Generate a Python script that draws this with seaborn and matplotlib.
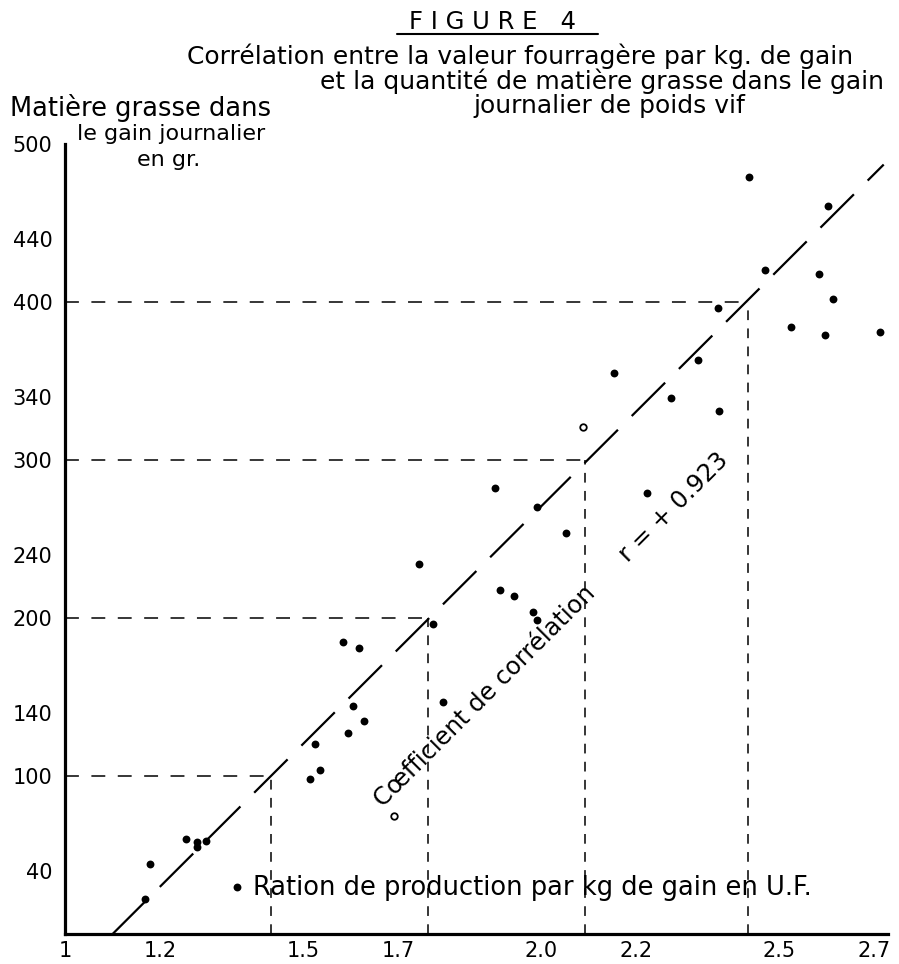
import matplotlib
matplotlib.use("Agg")
import matplotlib.pyplot as plt
import seaborn as sns
from matplotlib.lines import Line2D

# ---- data ----
fill_x = [1.168, 1.179, 1.254, 1.277, 1.277, 1.296, 1.361, 1.515, 1.525, 1.536,
          1.584, 1.595, 1.605, 1.618, 1.628, 1.744, 1.773, 1.794, 1.903, 1.914,
          1.943, 1.983, 1.992, 1.992, 2.053, 2.153, 2.223, 2.273, 2.330, 2.372,
          2.374, 2.437, 2.471, 2.525, 2.584, 2.597, 2.603, 2.613, 2.712]
fill_y = [22, 44, 60, 58, 55, 59, 30, 98, 120, 104,
          185, 127, 144, 181, 135, 234, 196, 147, 282, 218,
          214, 204, 199, 270, 254, 355, 279, 339, 363, 396,
          331, 479, 420, 384, 418, 379, 461, 402, 381]
open_x = [1.691, 2.088]
open_y = [75, 321]

reg_x = [1.10, 2.72]
reg_y = [0, 487]
guide_x = [1.433, 1.763, 2.092, 2.435]
guide_y = [100, 200, 300, 400]

x_ticks = [1, 1.2, 1.5, 1.7, 2.0, 2.2, 2.5, 2.7]
x_ticklabels = ["1", "1.2", "1.5", "1.7", "2.0", "2.2", "2.5", "2.7"]
y_ticks = [40, 100, 140, 200, 240, 300, 340, 400, 440, 500]

title_main = "F I G U R E   4"
title_lines = ["Corrélation entre la valeur fourragère par kg. de gain",
               "et la quantité de matière grasse dans le gain",
               "journalier de poids vif"]
ylabel_lines = ["Matière grasse dans", "le gain journalier", "en gr."]
xlabel = "Ration de production par kg de gain en U.F."
corr_text = "Cœfficient de corrélation"
r_text = "r = + 0.923"

# ---- style ----
sns.set_theme(style="white")
plt.rcParams["font.family"] = ["DejaVu Sans"]
plt.rcParams["lines.scale_dashes"] = False
plt.rcParams["text.color"] = "black"
plt.rcParams["axes.labelcolor"] = "black"
plt.rcParams["xtick.color"] = "black"
plt.rcParams["ytick.color"] = "black"

W, H = 899, 964
fig = plt.figure(figsize=(W / 100, H / 100), dpi=100)
ax = fig.add_axes([65 / W, (H - 934) / H, (888 - 65) / W, (934 - 144) / H])
ax.set_xlim(1.0, 2.729)
ax.set_ylim(0, 500)

# scatter
sns.scatterplot(x=fill_x, y=fill_y, ax=ax, color="black", s=32,
                edgecolor="black", linewidth=0, zorder=5)
sns.scatterplot(x=open_x, y=open_y, ax=ax, facecolor="white", s=22,
                edgecolor="black", linewidth=1.3, zorder=5)

# regression line
ax.plot(reg_x, reg_y, color="black", lw=1.6, linestyle=(0, (34, 14)), zorder=3)
# guide lines
for gx, gy in zip(guide_x, guide_y):
    ax.plot([1.0, gx], [gy, gy], color="black", lw=1.1,
            linestyle=(0, (10, 9)), zorder=2)
    ax.plot([gx, gx], [0, gy], color="black", lw=1.1,
            linestyle=(0, (7, 6)), zorder=2)

# axes / spines
for s in ["top", "right"]:
    ax.spines[s].set_visible(False)
for s in ["left", "bottom"]:
    ax.spines[s].set_linewidth(2.3)
    ax.spines[s].set_color("black")
ax.spines["left"].set_bounds(0, 500)

ax.set_xticks(x_ticks)
ax.set_xticklabels(x_ticklabels)
ax.set_yticks(y_ticks)
ax.tick_params(axis="both", direction="in", length=4, width=2, colors="black",
               labelsize=15)
ax.tick_params(axis="x", pad=5)
ax.tick_params(axis="y", pad=9)

# x label inside plot
ax.set_xlabel(xlabel, fontsize=18.5, ha="left", va="center", color="black")
ax.xaxis.set_label_coords((253 - 65) / 823, (934 - 888) / 790)

# rotated annotations
ax.text(1.668, 80, corr_text, rotation=45, rotation_mode="anchor",
        ha="left", va="baseline", fontsize=17.5, color="black")
ax.text(2.183, 235, r_text, rotation=45, rotation_mode="anchor",
        ha="left", va="baseline", fontsize=17.5, color="black")

# titles
fig.text(493 / W, 1 - 22 / H, title_main, ha="center", va="center", fontsize=17.5)
fig.add_artist(Line2D([397 / W, 598 / W], [1 - 34 / H, 1 - 34 / H],
                      color="black", lw=1.5, transform=fig.transFigure))
fig.text(187 / W, 1 - 56 / H, title_lines[0], ha="left", va="center", fontsize=18)
fig.text(320 / W, 1 - 81 / H, title_lines[1], ha="left", va="center", fontsize=18)
fig.text(473 / W, 1 - 106 / H, title_lines[2], ha="left", va="center", fontsize=18)

# y label (three lines)
fig.text(10 / W, 1 - 108 / H, ylabel_lines[0], ha="left", va="center", fontsize=18.5)
fig.text(77 / W, 1 - 134 / H, ylabel_lines[1], ha="left", va="center", fontsize=16)
fig.text(137 / W, 1 - 160 / H, ylabel_lines[2], ha="left", va="center", fontsize=16)

fig.savefig("out.png", dpi=100)
